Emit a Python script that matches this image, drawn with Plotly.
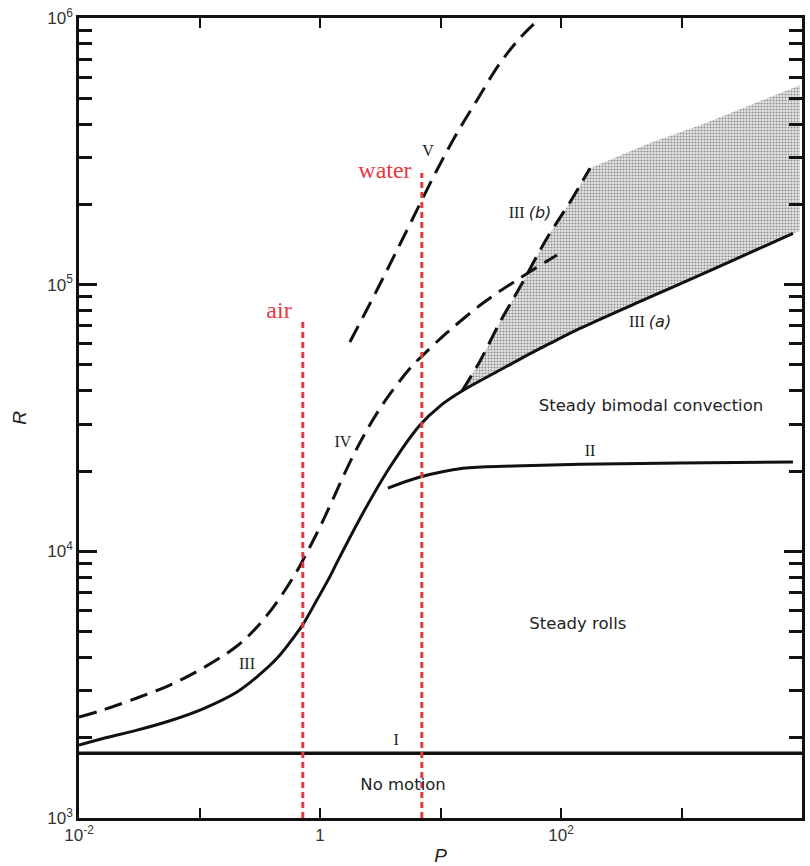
import plotly.graph_objects as go

# ---------------- data ----------------
# Curve III / III(a)  (solid)
p_III = [0.0100, 0.01582, 0.0303, 0.05689, 0.1069, 0.2048, 0.300, 0.4396, 0.6444, 0.7228,
         0.9442, 1.211, 1.411, 2.275, 3.809, 6.760, 9.906, 15.08, 31.18, 45.68, 81.02,
         143.8, 517.2, 1724, 8420]
r_III = [1878, 1987, 2135, 2316, 2568, 2970, 3385, 3970, 4945, 5320,
         6578, 8053, 9246, 13930, 20710, 29760, 35060, 39900, 47840, 52600, 60190,
         68530, 88840, 112850, 155770]

# Curve IV (dashed)
p_IV = [0.0100, 0.01582, 0.0303, 0.05689, 0.1069, 0.2048, 0.300, 0.4396, 0.6444, 0.7228,
        1.0, 1.282, 1.774, 2.502, 3.597, 5.801, 7.159, 11.32, 22.53, 45.68, 92.65]
r_IV = [2391, 2541, 2818, 3153, 3650, 4415, 5203, 6455, 8434, 9278,
        12335, 15710, 21620, 29000, 37560, 49530, 54450, 66070, 85310, 105870, 129100]

# Curve V (dashed)
p_V = [1.77, 2.97, 4.89, 9.35, 13.7, 20.1, 31.2, 45.7, 64.4]
r_V = [60950, 95500, 149600, 269200, 369800, 492000, 677600, 841400, 981700]

# Curve III(b) (dashed)
p_IIIb = [15.08, 21.3, 31.2, 45.7, 76.6, 119, 174]
r_IIIb = [39900, 51760, 72440, 97950, 149600, 204200, 273500]

# Upper edge of the stippled region
p_top = [174, 548, 1426, 3701, 9616]
r_top = [273500, 339600, 396300, 471000, 559700]
p_right, r_right = 9616, 158500

# Curve II (solid)
p_II = [3.66, 6.76, 15.4, 40.0, 144, 973, 8414]
r_II = [17260, 19010, 20510, 20890, 21230, 21430, 21630]

# Curve I (solid, onset of convection)
p_I = [0.01, 10000]
r_I = [1750, 1750]

# Prandtl numbers of air and water, and heights of the markers
p_air, r_air_top = 0.72, 75000
p_water, r_water_top = 7.0, 262000
r_bottom = 1000

x_tickvals = [1e-2, 1, 1e2, 1e4]
x_ticktext = ["10<sup>-2</sup>", "1", "10<sup>2</sup>", "10<sup>4</sup>"]
x_minor = [1e-1, 1e1, 1e3]
y_tickvals = [1e3, 1e4, 1e5, 1e6]
y_ticktext = ["10<sup>3</sup>", "10<sup>4</sup>", "10<sup>5</sup>", "10<sup>6</sup>"]
y_minor = [m * 10 ** k for k in (3, 4, 5) for m in range(2, 10)]

# curve labels (roman numerals), region labels, fluid labels
num_text = ["V", "III <span style='font-family:DejaVu Sans'><i>(b)</i></span>",
            "III <span style='font-family:DejaVu Sans'><i>(a)</i></span>",
            "IV", "II", "III", "I"]
num_p = [7.87, 55.3, 548, 1.55, 174, 0.248, 4.28]
num_r = [314000, 184000, 71800, 25500, 23550, 3750, 1945]

region_text = ["Steady bimodal convection", "Steady rolls", "No motion"]
region_p = [558, 138, 4.89]
region_r = [34750, 5300, 1318]

fluid_text = ["air", "water"]
fluid_p = [0.457, 3.46]
fluid_r = [78900, 264000]

# ---------------- figure ----------------
fig = go.Figure()

# stippled region between III(b), the upper edge and III(a)
low = [(p, r) for p, r in zip(p_III, r_III) if p >= p_IIIb[0]]
shade_p = p_IIIb + p_top + [p_right] + [p for p, _ in reversed(low)]
shade_r = r_IIIb + r_top + [r_right] + [r for _, r in reversed(low)]
fig.add_trace(go.Scatter(
    x=shade_p, y=shade_r, mode="lines", fill="toself",
    line=dict(width=0, color="rgba(0,0,0,0)", simplify=False),
    fillcolor="rgba(0,0,0,0.12)",
    fillpattern=dict(shape=".", fgcolor="#3a3a3a", bgcolor="#e6e6e6", size=3, solidity=0.4),
    hoverinfo="skip"))

solid = dict(color="#111111", width=3, shape="spline", smoothing=1.0, simplify=False)
dashed = dict(color="#111111", width=3, dash="18px,9px", shape="spline", smoothing=1.0,
              simplify=False)

fig.add_trace(go.Scatter(x=p_I, y=r_I, mode="lines", line=dict(color="#111111", width=3.5)))
fig.add_trace(go.Scatter(x=p_III, y=r_III, mode="lines", line=solid))
fig.add_trace(go.Scatter(x=p_II, y=r_II, mode="lines", line=solid))
fig.add_trace(go.Scatter(x=p_IV, y=r_IV, mode="lines", line=dashed))
fig.add_trace(go.Scatter(x=p_V, y=r_V, mode="lines", line=dashed))
fig.add_trace(go.Scatter(x=p_IIIb, y=r_IIIb, mode="lines", line=dashed))

red = dict(color="#e8383d", width=3, dash="6px,4px")
fig.add_trace(go.Scatter(x=[p_air, p_air], y=[r_bottom, r_air_top], mode="lines", line=red))
fig.add_trace(go.Scatter(x=[p_water, p_water], y=[r_bottom, r_water_top], mode="lines", line=red))

fig.add_trace(go.Scatter(x=num_p, y=num_r, mode="text", text=num_text,
                         textfont=dict(family="Liberation Serif", size=16, color="#222222"),
                         hoverinfo="skip"))
fig.add_trace(go.Scatter(x=region_p, y=region_r, mode="text", text=region_text,
                         textfont=dict(family="DejaVu Sans", size=16.5, color="#222222"),
                         hoverinfo="skip"))
fig.add_trace(go.Scatter(x=fluid_p, y=fluid_r, mode="text", text=fluid_text,
                         textfont=dict(family="Liberation Serif", size=24, color="#e8383d"),
                         hoverinfo="skip"))

fig.update_layout(
    width=810, height=866,
    margin=dict(l=79, r=8, t=18, b=48),
    plot_bgcolor="white", paper_bgcolor="white",
    font=dict(family="Liberation Sans", size=16, color="#222222"),
    showlegend=False,
)
fig.update_xaxes(
    type="log", range=[-2, 4], tickvals=x_tickvals, ticktext=x_ticktext,
    ticks="inside", ticklen=10, tickwidth=1.5, tickcolor="#111111",
    minor=dict(tickvals=x_minor, ticks="inside", ticklen=10, tickwidth=1.5, tickcolor="#111111"),
    mirror="allticks", showline=True, linecolor="#111111", linewidth=2.5,
    showgrid=False, zeroline=False, automargin=False,
    tickfont=dict(family="Liberation Sans", size=17, color="#333333"),
    title=dict(text="<i>P</i>", standoff=8,
               font=dict(family="Liberation Sans", size=19, color="#222222")),
)
fig.update_yaxes(
    type="log", range=[3, 6], tickvals=y_tickvals, ticktext=y_ticktext,
    ticks="inside", ticklen=18, tickwidth=2.5, tickcolor="#111111",
    minor=dict(tickvals=y_minor, ticks="inside", ticklen=13, tickwidth=2.5, tickcolor="#111111"),
    mirror="allticks", showline=True, linecolor="#111111", linewidth=2.5,
    showgrid=False, zeroline=False, automargin=False,
    tickfont=dict(family="Liberation Sans", size=17, color="#333333"),
    title=dict(text="<i>R</i>", standoff=16,
               font=dict(family="Liberation Sans", size=19, color="#222222")),
)

fig.write_html("out.html")
